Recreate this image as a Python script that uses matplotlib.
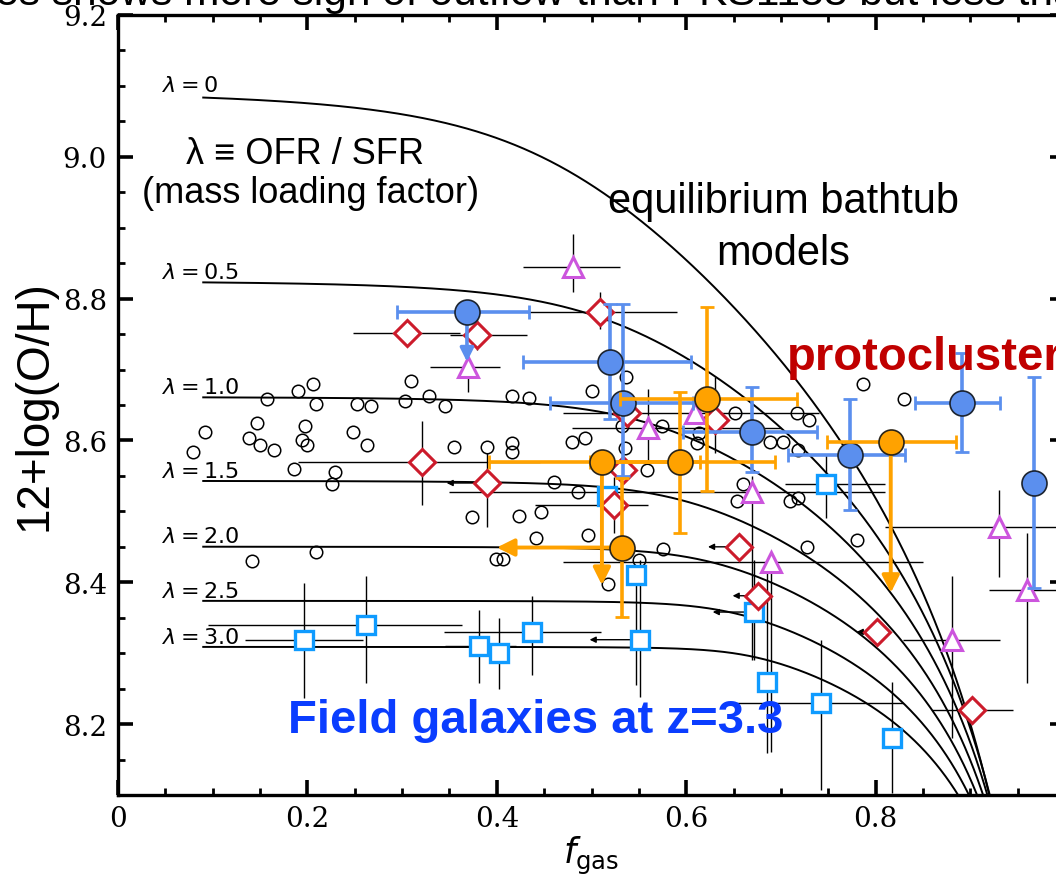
import numpy as np
import matplotlib
matplotlib.use("Agg")
import matplotlib.pyplot as plt
from matplotlib.ticker import MultipleLocator

plt.rcParams['mathtext.fontset'] = 'dejavusans'

# ---------------- equilibrium bathtub models ----------------
lambda_values = [0.0, 0.5, 1.0, 1.5, 2.0, 2.5, 3.0]
lambda_labels = ['0', '0.5', '1.0', '1.5', '2.0', '2.5', '3.0']
yield_oh = 9.087          # 12+log(O/H) reached with no outflow and no gas
return_frac = 0.4
gas_slope = 0.8           # dilution per unit gas ratio above the knee
gas_slope_power = 0.15
gas_knee = 0.6            # gas ratio where dilution sets in (lambda = 0)
gas_knee_per_lambda = 0.4
gas_knee_width = 0.25
fgas_model_start = 0.09

# ---------------- local comparison sample (open circles) ----------------
local_f = [0.157, 0.190, 0.206, 0.209, 0.252, 0.267, 0.309, 0.303, 0.328, 0.345,
           0.092, 0.147, 0.138, 0.150, 0.165, 0.197, 0.194, 0.200, 0.248, 0.263,
           0.079, 0.186, 0.229, 0.226, 0.355, 0.390, 0.374, 0.141, 0.209, 0.399,
           0.416, 0.434, 0.501, 0.536, 0.416, 0.416, 0.479, 0.493, 0.460, 0.486,
           0.423, 0.447, 0.441, 0.496, 0.407, 0.517, 0.535, 0.559, 0.574, 0.614,
           0.611, 0.652, 0.654, 0.660, 0.576, 0.688, 0.702, 0.717, 0.710, 0.550,
           0.787, 0.830, 0.730, 0.718, 0.718, 0.728, 0.780, 0.532]
local_oh = [8.659, 8.670, 8.680, 8.651, 8.651, 8.648, 8.684, 8.656, 8.662, 8.649,
            8.612, 8.624, 8.603, 8.594, 8.586, 8.621, 8.601, 8.594, 8.612, 8.593,
            8.584, 8.560, 8.555, 8.538, 8.591, 8.591, 8.492, 8.430, 8.442, 8.433,
            8.663, 8.660, 8.670, 8.690, 8.597, 8.584, 8.598, 8.603, 8.542, 8.528,
            8.494, 8.499, 8.463, 8.466, 8.433, 8.398, 8.590, 8.559, 8.620, 8.611,
            8.597, 8.639, 8.514, 8.539, 8.447, 8.598, 8.598, 8.639, 8.514, 8.432,
            8.679, 8.659, 8.629, 8.587, 8.519, 8.450, 8.460, 8.620]

# ---------------- red diamonds ----------------
dia_f = [0.305, 0.379, 0.321, 0.390, 0.509, 0.537, 0.630, 0.533, 0.524, 0.656, 0.676, 0.801, 0.902]
dia_oh = [8.751, 8.749, 8.569, 8.540, 8.781, 8.639, 8.629, 8.559, 8.509, 8.450, 8.381, 8.330, 8.220]
dia_f_lo = [0.248, 0.351, 0.190, None, 0.432, None, None, None, 0.440, None, None, None, 0.860]
dia_f_hi = [0.361, 0.432, 0.446, None, 0.590, None, None, None, 0.560, None, None, None, 0.945]
dia_oh_lo = [None, 8.728, 8.509, 8.478, 8.757, None, 8.583, None, 8.470, None, None, None, None]
dia_oh_hi = [None, 8.771, 8.628, 8.583, 8.809, None, 8.690, None, 8.549, None, None, None, None]
dia_f_limit = [None, None, None, 0.347, None, None, None, None, None, 0.623, 0.649, 0.780, None]

# ---------------- magenta triangles ----------------
tri_f = [0.480, 0.370, 0.560, 0.609, 0.669, 0.690, 0.881, 0.930, 0.960]
tri_oh = [8.845, 8.703, 8.618, 8.639, 8.528, 8.429, 8.319, 8.478, 8.389]
tri_f_lo = [0.428, 0.329, 0.479, 0.470, 0.350, 0.470, 0.829, 0.810, 0.920]
tri_f_hi = [0.530, 0.403, 0.700, 0.740, 0.810, 0.850, 0.931, 1.000, 1.000]
tri_oh_lo = [8.809, 8.669, 8.570, None, 8.290, 8.160, 8.180, 8.408, 8.258]
tri_oh_hi = [8.891, 8.718, 8.672, None, 8.550, 8.429, 8.409, 8.530, 8.470]

# ---------------- field galaxies at z=3.3 (open squares) ----------------
sq_f = [0.196, 0.262, 0.381, 0.402, 0.437, 0.551, 0.547, 0.672, 0.685, 0.742, 0.817, 0.748, 0.516]
sq_oh = [8.319, 8.340, 8.310, 8.300, 8.330, 8.319, 8.410, 8.358, 8.259, 8.230, 8.180, 8.539, 8.521]
sq_f_lo = [0.134, 0.095, 0.345, None, 0.344, None, None, None, None, 0.649, None, 0.704, None]
sq_f_hi = [0.259, 0.363, 0.420, None, 0.510, None, None, None, None, 0.829, None, 0.810, None]
sq_oh_lo = [8.237, 8.258, 8.258, 8.249, 8.269, 8.238, 8.255, 8.290, 8.159, 8.107, 8.103, 8.491, None]
sq_oh_hi = [8.399, 8.409, 8.361, 8.350, 8.381, 8.432, 8.410, 8.432, 8.432, 8.319, 8.259, 8.580, None]
sq_f_limit = [None, None, None, None, None, 0.498, None, 0.628, None, None, None, None, None]

# ---------------- protocluster members (blue filled circles) ----------------
pc_f = [0.3685, 0.520, 0.533, 0.669, 0.773, 0.891, 0.967]
pc_oh = [8.781, 8.711, 8.653, 8.612, 8.580, 8.653, 8.540]
pc_f_lo = [0.295, 0.428, 0.456, 0.597, 0.707, 0.842, None]
pc_f_hi = [0.434, 0.605, 0.607, 0.738, 0.831, 0.931, None]
pc_oh_lo = [None, 8.630, 8.550, 8.555, 8.502, 8.584, 8.392]
pc_oh_hi = [None, 8.792, 8.792, 8.675, 8.658, 8.724, 8.689]
pc_oh_limit = [8.711, None, None, None, None, None, None]

# ---------------- orange filled circles ----------------
or_f = [0.511, 0.593, 0.622, 0.532, 0.816]
or_oh = [8.569, 8.569, 8.659, 8.449, 8.598]
or_f_lo = [0.392, 0.498, 0.530, None, 0.749]
or_f_hi = [0.615, 0.694, 0.717, None, 0.885]
or_oh_lo = [None, 8.470, 8.529, 8.351, None]
or_oh_hi = [None, 8.668, 8.788, 8.547, None]
or_f_limit = [None, None, None, 0.400, None]
or_oh_limit = [8.396, None, None, None, 8.385]

# ---------------- ticks ----------------
xtick_vals = [0, 0.2, 0.4, 0.6, 0.8]
xtick_labels = ['0', '0.2', '0.4', '0.6', '0.8']
ytick_vals = [8.2, 8.4, 8.6, 8.8, 9.0, 9.2]
ytick_labels = ['8.2', '8.4', '8.6', '8.8', '9.0', '9.2']


def softplus(x, width):
    return width * np.logaddexp(0.0, x / width)


def bathtub_oh(fgas, lam):
    """Equilibrium metallicity for gas fraction fgas and mass loading lam."""
    mu = fgas / (1.0 - fgas)
    lam_eff = lam / (1.0 - return_frac)
    knee = gas_knee + gas_knee_per_lambda * lam
    slope = gas_slope * (1.0 + lam_eff) ** (-gas_slope_power)
    dilution = slope * (softplus(mu - knee, gas_knee_width)
                        - softplus(-knee, gas_knee_width))
    return yield_oh - np.log10(1.0 + lam_eff + dilution)


def draw_sample(ax, f, oh, f_lo, f_hi, oh_lo, oh_hi, marker_kw, err_kw,
                f_limit=None, oh_limit=None, arrow_kw=None, zorder=3):
    n = len(f)
    for i in range(n):
        if f_lo[i] is not None:
            ax.errorbar(f[i], oh[i], xerr=[[f[i] - f_lo[i]], [f_hi[i] - f[i]]],
                        fmt='none', zorder=zorder, **err_kw)
        if oh_lo[i] is not None:
            ax.errorbar(f[i], oh[i], yerr=[[oh[i] - oh_lo[i]], [oh_hi[i] - oh[i]]],
                        fmt='none', zorder=zorder, **err_kw)
        if f_limit is not None and f_limit[i] is not None:
            ax.annotate('', xy=(f_limit[i], oh[i]), xytext=(f[i], oh[i]),
                        arrowprops=dict(shrinkA=0, shrinkB=0, **arrow_kw),
                        zorder=zorder)
        if oh_limit is not None and oh_limit[i] is not None:
            ax.annotate('', xy=(f[i], oh_limit[i]), xytext=(f[i], oh[i]),
                        arrowprops=dict(shrinkA=0, shrinkB=0, **arrow_kw),
                        zorder=zorder)
    ax.plot(f, oh, ls='none', zorder=zorder + 0.5, **marker_kw)


W, H = 1056, 879
fig = plt.figure(figsize=(W / 100, H / 100), dpi=100)
ax = fig.add_axes([118 / W, (H - 796) / H, 947 / W, 780 / H])
ax.set_xlim(0, 1.0)
ax.set_ylim(8.1, 9.2)

# model curves
fgrid = np.linspace(fgas_model_start, 0.9995, 3000)
for lam, lab in zip(lambda_values, lambda_labels):
    ax.plot(fgrid, bathtub_oh(fgrid, lam), color='black', lw=1.4, zorder=1)
    ax.text(0.0465, bathtub_oh(0.0, lam) + 0.006, r'$\lambda = %s$' % lab,
            fontsize=16, ha='left', va='baseline', zorder=2)

black_err = dict(ecolor='black', elinewidth=1.0, capsize=0)
black_arrow = dict(arrowstyle='-|>', color='black', lw=1.0, mutation_scale=9)

ax.plot(local_f, local_oh, ls='none', marker='o', ms=9, mfc='none', mec='black',
        mew=1.1, zorder=2)

draw_sample(ax, sq_f, sq_oh, sq_f_lo, sq_f_hi, sq_oh_lo, sq_oh_hi,
            dict(marker='s', ms=13.5, mfc='white', mec='#0f9bff', mew=2.4),
            black_err, f_limit=sq_f_limit, arrow_kw=black_arrow, zorder=3)
draw_sample(ax, dia_f, dia_oh, dia_f_lo, dia_f_hi, dia_oh_lo, dia_oh_hi,
            dict(marker='D', ms=13.5, mfc='white', mec='#cc1b2b', mew=2.2),
            black_err, f_limit=dia_f_limit, arrow_kw=black_arrow, zorder=3)
draw_sample(ax, tri_f, tri_oh, tri_f_lo, tri_f_hi, tri_oh_lo, tri_oh_hi,
            dict(marker='^', ms=15, mfc='white', mec='#cc55dd', mew=2.2),
            black_err, zorder=3)

blue = '#5b8fee'
draw_sample(ax, pc_f, pc_oh, pc_f_lo, pc_f_hi, pc_oh_lo, pc_oh_hi,
            dict(marker='o', ms=18, mfc=blue, mec='#1c2430', mew=1.2),
            dict(ecolor=blue, elinewidth=2.6, capsize=5, capthick=2.0),
            oh_limit=pc_oh_limit,
            arrow_kw=dict(arrowstyle='-|>', color=blue, lw=2.6, mutation_scale=20),
            zorder=6)
orange = '#ffa200'
draw_sample(ax, or_f, or_oh, or_f_lo, or_f_hi, or_oh_lo, or_oh_hi,
            dict(marker='o', ms=18, mfc=orange, mec='#2a2418', mew=1.2),
            dict(ecolor=orange, elinewidth=2.6, capsize=5, capthick=2.0),
            f_limit=or_f_limit, oh_limit=or_oh_limit,
            arrow_kw=dict(arrowstyle='-|>', color=orange, lw=2.8, mutation_scale=26),
            zorder=7)

# axes styling
for sp in ax.spines.values():
    sp.set_linewidth(2.4)
ax.set_xticks(xtick_vals)
ax.set_xticklabels(xtick_labels)
ax.set_yticks(ytick_vals)
ax.set_yticklabels(ytick_labels)
ax.xaxis.set_minor_locator(MultipleLocator(0.05))
ax.yaxis.set_minor_locator(MultipleLocator(0.05))
ax.tick_params(which='both', direction='in', top=True, right=True)
ax.tick_params(which='major', length=11, width=2.6)
ax.tick_params(which='minor', length=5, width=2.0)
ax.tick_params(axis='x', which='major', pad=7)
ax.tick_params(axis='y', which='major', pad=8)
for lbl in ax.get_xticklabels() + ax.get_yticklabels():
    lbl.set_fontfamily('DejaVu Serif')
    lbl.set_fontsize(20)

sans = ['Liberation Sans', 'DejaVu Sans']
fig.text(35 / W, 1 - 406 / H, '12+log(O/H)', rotation=90, ha='center', va='center',
         fontsize=33, family=sans)
fig.text(591 / W, 1 - 856 / H, r'$f_{\rm gas}$', ha='center', va='center', fontsize=25)

fig.text(305 / W, 1 - 164 / H, 'λ ≡ OFR / SFR', ha='center', va='baseline',
         fontsize=26, family=sans)
fig.text(311 / W, 1 - 203 / H, '(mass loading factor)', ha='center', va='baseline',
         fontsize=26, family=sans)
fig.text(783 / W, 1 - 213 / H, 'equilibrium bathtub', ha='center', va='baseline',
         fontsize=30, family=sans)
fig.text(783 / W, 1 - 265 / H, 'models', ha='center', va='baseline',
         fontsize=30, family=sans)
fig.text(787 / W, 1 - 370 / H, 'protocluster', ha='left', va='baseline',
         fontsize=34, fontweight='bold', color='#c00000', family=sans)
fig.text(288 / W, 1 - 733 / H, 'Field galaxies at z=3.3', ha='left', va='baseline',
         fontsize=34, fontweight='bold', color='#0a3dff', family=sans)
fig.text(-116 / W, 1 - 5 / H,
         'galaxies shows more sign of outflow than PKS1138 but less than',
         ha='left', va='baseline', fontsize=30.6, family=sans)

fig.savefig('out.png', dpi=100)
